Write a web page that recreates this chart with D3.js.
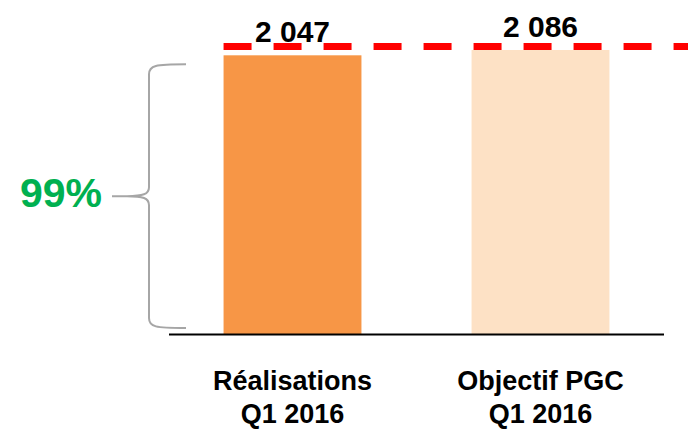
<!DOCTYPE html>
<html><head><meta charset="utf-8">
<script src="https://cdn.jsdelivr.net/npm/d3@7"></script>
<style>html,body{margin:0;padding:0;background:#fff;}svg{display:block;}</style>
</head><body>
<svg id="c" width="688" height="429"></svg>
<script>
const categories = [["Réalisations","Q1 2016"],["Objectif PGC","Q1 2016"]];
const values = [2047, 2086];
const valueLabels = ["2 047", "2 086"];
const barColors = ["#f79646", "#fde1c5"];
const target = 2086;
const ratioLabel = "99%";

(function(){
const svg = d3.select("#c");
const font = "'Liberation Sans', Arial, sans-serif";

const x = d3.scaleBand().domain(d3.range(values.length)).range([169, 664])
  .paddingInner(0.444).paddingOuter(0.22);
const y = d3.scaleLinear().domain([0, target]).range([334, 50]);

// bars
svg.selectAll("rect.bar").data(values).join("rect")
  .attr("class","bar")
  .attr("x",(d,i)=>x(i)).attr("width",x.bandwidth())
  .attr("y",d=>y(d)).attr("height",d=>y(0)-y(d))
  .attr("fill",(d,i)=>barColors[i]);

// baseline
svg.append("line").attr("x1",x.range()[0]).attr("x2",x.range()[1])
  .attr("y1",y(0)+0.5).attr("y2",y(0)+0.5)
  .attr("stroke","#000").attr("stroke-width",2);

// value labels
svg.selectAll("text.val").data(values).join("text")
  .attr("class","val")
  .attr("x",(d,i)=>x(i)+x.bandwidth()/2).attr("y",d=>y(d)-13)
  .attr("text-anchor","middle").attr("font-family",font)
  .attr("font-weight","bold").attr("font-size",30).attr("fill","#000")
  .text((d,i)=>valueLabels[i]);

// target dashed line
svg.append("line").attr("x1",x(0)).attr("x2",688)
  .attr("y1",y(target)-3.5).attr("y2",y(target)-3.5)
  .attr("stroke","#ff0000").attr("stroke-width",7)
  .attr("stroke-dasharray","28 22");

// category labels
categories.forEach((lines,i)=>{
  const t = svg.append("text").attr("x",x(i)+x.bandwidth()/2).attr("y",390)
    .attr("text-anchor","middle").attr("font-family",font)
    .attr("font-weight","bold").attr("font-size",27).attr("fill","#000");
  lines.forEach((l,j)=>t.append("tspan").attr("x",x(i)+x.bandwidth()/2).attr("dy",j?33:0).text(l));
});

// brace
const bTop = y(values[0]) + 9, bBot = y(0) - 6, mid = (bTop+bBot)/2;
const bx = 149, armX = 186, tipX = 112;
const p = d3.path();
p.moveTo(armX, bTop);
p.bezierCurveTo(bx+6, bTop, bx, bTop+1, bx, bTop+10);
p.lineTo(bx, mid-9);
p.bezierCurveTo(bx, mid-2, bx-6, mid, bx-22, mid);
p.lineTo(tipX, mid);
p.moveTo(bx-22, mid);
p.bezierCurveTo(bx-6, mid, bx, mid+2, bx, mid+9);
p.lineTo(bx, bBot-10);
p.bezierCurveTo(bx, bBot-1, bx+6, bBot, armX, bBot);
svg.append("path").attr("d",p.toString()).attr("fill","none")
  .attr("stroke","#a6a6a6").attr("stroke-width",2);

svg.append("text").attr("x",102).attr("y",mid+11)
  .attr("text-anchor","end").attr("font-family",font)
  .attr("font-weight","bold").attr("font-size",41).attr("fill","#00b050")
  .text(ratioLabel);
})();
</script>
</body></html>
